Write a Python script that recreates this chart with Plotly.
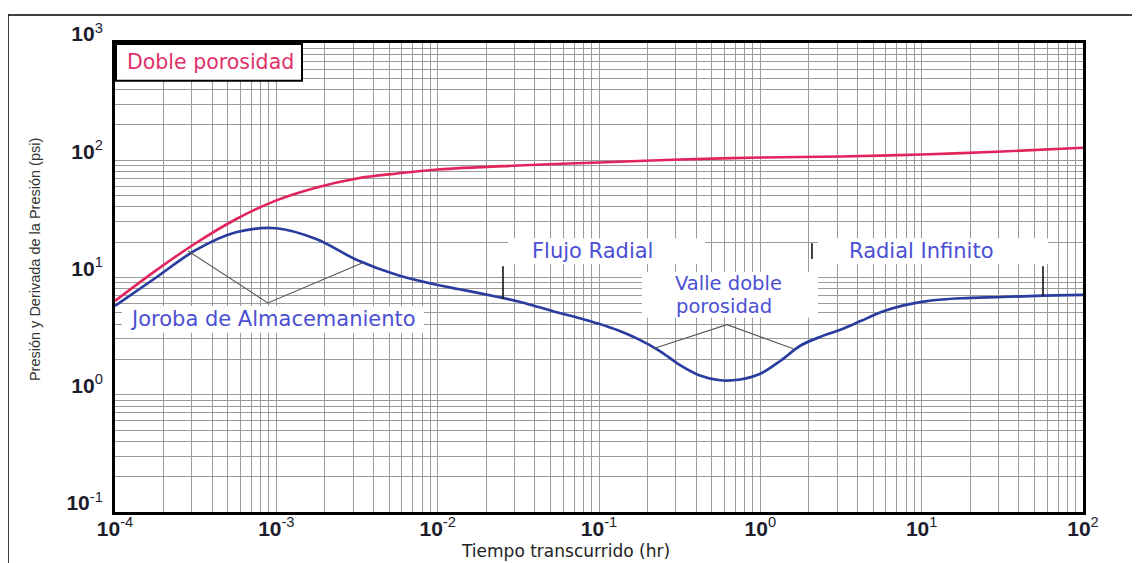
import plotly.graph_objects as go

# ---------------- data ----------------
time_pressure = [1.0e-4, 1.78e-4, 3.16e-4, 5.62e-4, 1.0e-3, 1.78e-3, 3.16e-3, 5.62e-3,
                 1.0e-2, 3.16e-2, 0.1, 0.316, 1.0, 3.16, 10.0, 31.6, 100.0]
pressure = [6.31, 11.4, 19.6, 31.4, 45.5, 58.7, 70.0, 77.2,
            83.4, 90.2, 95.7, 101.5, 105.5, 107.6, 112.0, 118.6, 128.0]

time_derivative = [1.0e-4, 1.78e-4, 3.16e-4, 5.62e-4, 1.0e-3, 1.78e-3, 3.16e-3, 5.62e-3,
                   0.01, 0.01334, 0.01778, 0.02371, 0.03162, 0.04217, 0.05623, 0.07499,
                   0.1, 0.1334, 0.1778, 0.2371, 0.3162, 0.4217, 0.5623, 0.7499,
                   1.0, 1.334, 1.778, 2.371, 3.162, 4.217, 5.623, 7.499,
                   10.0, 13.34, 17.78, 31.62, 56.23, 100.0]
derivative = [5.73, 9.9, 17.1, 24.3, 26.3, 21.2, 14.1, 10.5,
              8.63, 7.98, 7.40, 6.82, 6.24, 5.60, 5.01, 4.52,
              4.03, 3.51, 2.95, 2.37, 1.80, 1.46, 1.33, 1.35,
              1.51, 1.95, 2.63, 3.13, 3.60, 4.27, 5.08, 5.73,
              6.19, 6.49, 6.65, 6.82, 7.00, 7.11]

hump_time = [2.84e-4, 8.87e-4, 3.4e-3]
hump_value = [16.8, 6.07, 13.3]
valley_time = [0.216, 0.621, 1.6]
valley_value = [2.47, 3.96, 2.47]

tick_times = [2.54e-2, 2.09, 56.5]
tick_top = [12.5, 19.6, 12.5]
tick_bottom = [6.6, 14.4, 7.0]

x_tick_vals = [1e-4, 1e-3, 1e-2, 1e-1, 1e0, 1e1, 1e2]
x_tick_text = ["<b>10</b><sup>-4</sup>", "<b>10</b><sup>-3</sup>", "<b>10</b><sup>-2</sup>",
               "<b>10</b><sup>-1</sup>", "<b>10</b><sup>0</sup>", "<b>10</b><sup>1</sup>",
               "<b>10</b><sup>2</sup>"]
y_tick_vals = [1e-1, 1e0, 1e1, 1e2, 1e3]
y_tick_text = ["<b>10</b><sup>-1</sup>", "<b>10</b><sup>0</sup>", "<b>10</b><sup>1</sup>",
               "<b>10</b><sup>2</sup>", "<b>10</b><sup>3</sup>"]

# ---------------- layout geometry (screen pixels) ----------------
VW, VH = 1140, 563          # browser viewport
BODY = 8                    # default page body margin
L, R, T, B = 115, 1083, 41, 512


def px(x):
    return (x - L) / (R - L)


def py(y):
    return (B - y) / (B - T)


RED = "#e2245c"
BLUE = "#2a3c9e"
LABEL_BLUE = "#4b4fd2"
GRID = "#9a9a9a"

fig = go.Figure()

fig.add_trace(go.Scatter(x=time_pressure, y=pressure, mode="lines",
                         line=dict(color=RED, width=2.6, shape="spline", smoothing=1.0),
                         hoverinfo="skip"))
fig.add_trace(go.Scatter(x=time_derivative, y=derivative, mode="lines",
                         line=dict(color=BLUE, width=2.7, shape="spline", smoothing=1.0),
                         hoverinfo="skip"))
fig.add_trace(go.Scatter(x=hump_time, y=hump_value, mode="lines",
                         line=dict(color="#555555", width=1.1), hoverinfo="skip"))
fig.add_trace(go.Scatter(x=valley_time, y=valley_value, mode="lines",
                         line=dict(color="#555555", width=1.1), hoverinfo="skip"))
for t, a, b in zip(tick_times, tick_top, tick_bottom):
    fig.add_trace(go.Scatter(x=[t, t], y=[a, b], mode="lines",
                             line=dict(color="#111111", width=1.6), hoverinfo="skip"))

minor_x = [m * 10 ** e for e in range(-4, 2) for m in range(2, 10)]
minor_y = [m * 10 ** e for e in range(-1, 3) for m in range(2, 10)]

tickfont = dict(family="Arial, Liberation Sans", size=21, color="#1c1c2c")

fig.update_xaxes(type="log", range=[-4, 2], tickmode="array", tickvals=x_tick_vals,
                 ticktext=x_tick_text, tickfont=tickfont, showgrid=True,
                 gridcolor=GRID, gridwidth=1,
                 minor=dict(tickmode="array", tickvals=minor_x, showgrid=True,
                            gridcolor=GRID, gridwidth=1, ticks=""),
                 showline=True, linecolor="black", linewidth=3, mirror=True,
                 ticks="", zeroline=False, ticklabelstandoff=-4)
fig.update_yaxes(type="log", range=[-1, 3], tickmode="array", tickvals=y_tick_vals,
                 ticktext=y_tick_text, tickfont=tickfont, showgrid=True,
                 gridcolor=GRID, gridwidth=1,
                 minor=dict(tickmode="array", tickvals=minor_y, showgrid=True,
                            gridcolor=GRID, gridwidth=1, ticks=""),
                 showline=True, linecolor="black", linewidth=3, mirror=True,
                 ticks="", zeroline=False, ticklabelstandoff=5, ticklabelshift=-9)

shapes = []
# outer frame (top and left edges visible)
shapes.append(dict(type="line", xref="paper", yref="paper", x0=px(8), x1=px(1150),
                   y0=py(13), y1=py(13), line=dict(color="black", width=1.5)))
shapes.append(dict(type="line", xref="paper", yref="paper", x0=px(8), x1=px(8),
                   y0=py(13), y1=py(580), line=dict(color="black", width=1.5)))
# white label backgrounds
for (x0, y0, x1, y1) in [(122, 305, 424, 332), (508, 237, 705, 263),
                         (818, 237, 1048, 263), (642, 271, 818, 317)]:
    shapes.append(dict(type="rect", xref="paper", yref="paper", x0=px(x0), x1=px(x1),
                       y0=py(y1), y1=py(y0), fillcolor="white", line=dict(width=0),
                       layer="above"))
# "Doble porosidad" box
shapes.append(dict(type="rect", xref="paper", yref="paper", x0=px(116), x1=px(302),
                   y0=py(79), y1=py(42), fillcolor="white",
                   line=dict(color="black", width=2), layer="above"))

labelfont = dict(family="DejaVu Sans, Verdana, Arial", size=21, color=LABEL_BLUE)
valleyfont = dict(family="DejaVu Sans, Verdana, Arial", size=19.5, color=LABEL_BLUE)
annotations = [
    dict(text="Doble porosidad", x=px(210), y=py(60),
         font=dict(family="DejaVu Sans, Verdana, Arial", size=20.5, color="#e0306a")),
    dict(text="Joroba de Almacemaniento", x=px(273), y=py(318), font=labelfont),
    dict(text="Flujo Radial", x=px(592), y=py(250), font=labelfont),
    dict(text="Radial Infinito", x=px(921), y=py(250), font=labelfont),
    dict(text="Valle doble", x=px(728), y=py(283), font=valleyfont),
    dict(text="porosidad", x=px(724), y=py(306), font=valleyfont),
    dict(text="Tiempo transcurrido (hr)", x=px(565), y=py(551),
         font=dict(family="DejaVu Sans, Arial", size=17, color="#222222")),
    dict(text="Presión y Derivada de la Presión (psi)", x=px(35), y=py(259),
         textangle=-90, font=dict(family="Arial, Liberation Sans", size=14.5, color="#333333")),
]
for a in annotations:
    a.update(xref="paper", yref="paper", showarrow=False, xanchor="center", yanchor="middle")

fig.update_layout(width=VW - BODY, height=VH - BODY,
                  margin=dict(l=L - BODY, r=VW - R, t=T - BODY, b=VH - B),
                  paper_bgcolor="white", plot_bgcolor="white", showlegend=False,
                  shapes=shapes, annotations=annotations)

fig.write_html("out.html")
